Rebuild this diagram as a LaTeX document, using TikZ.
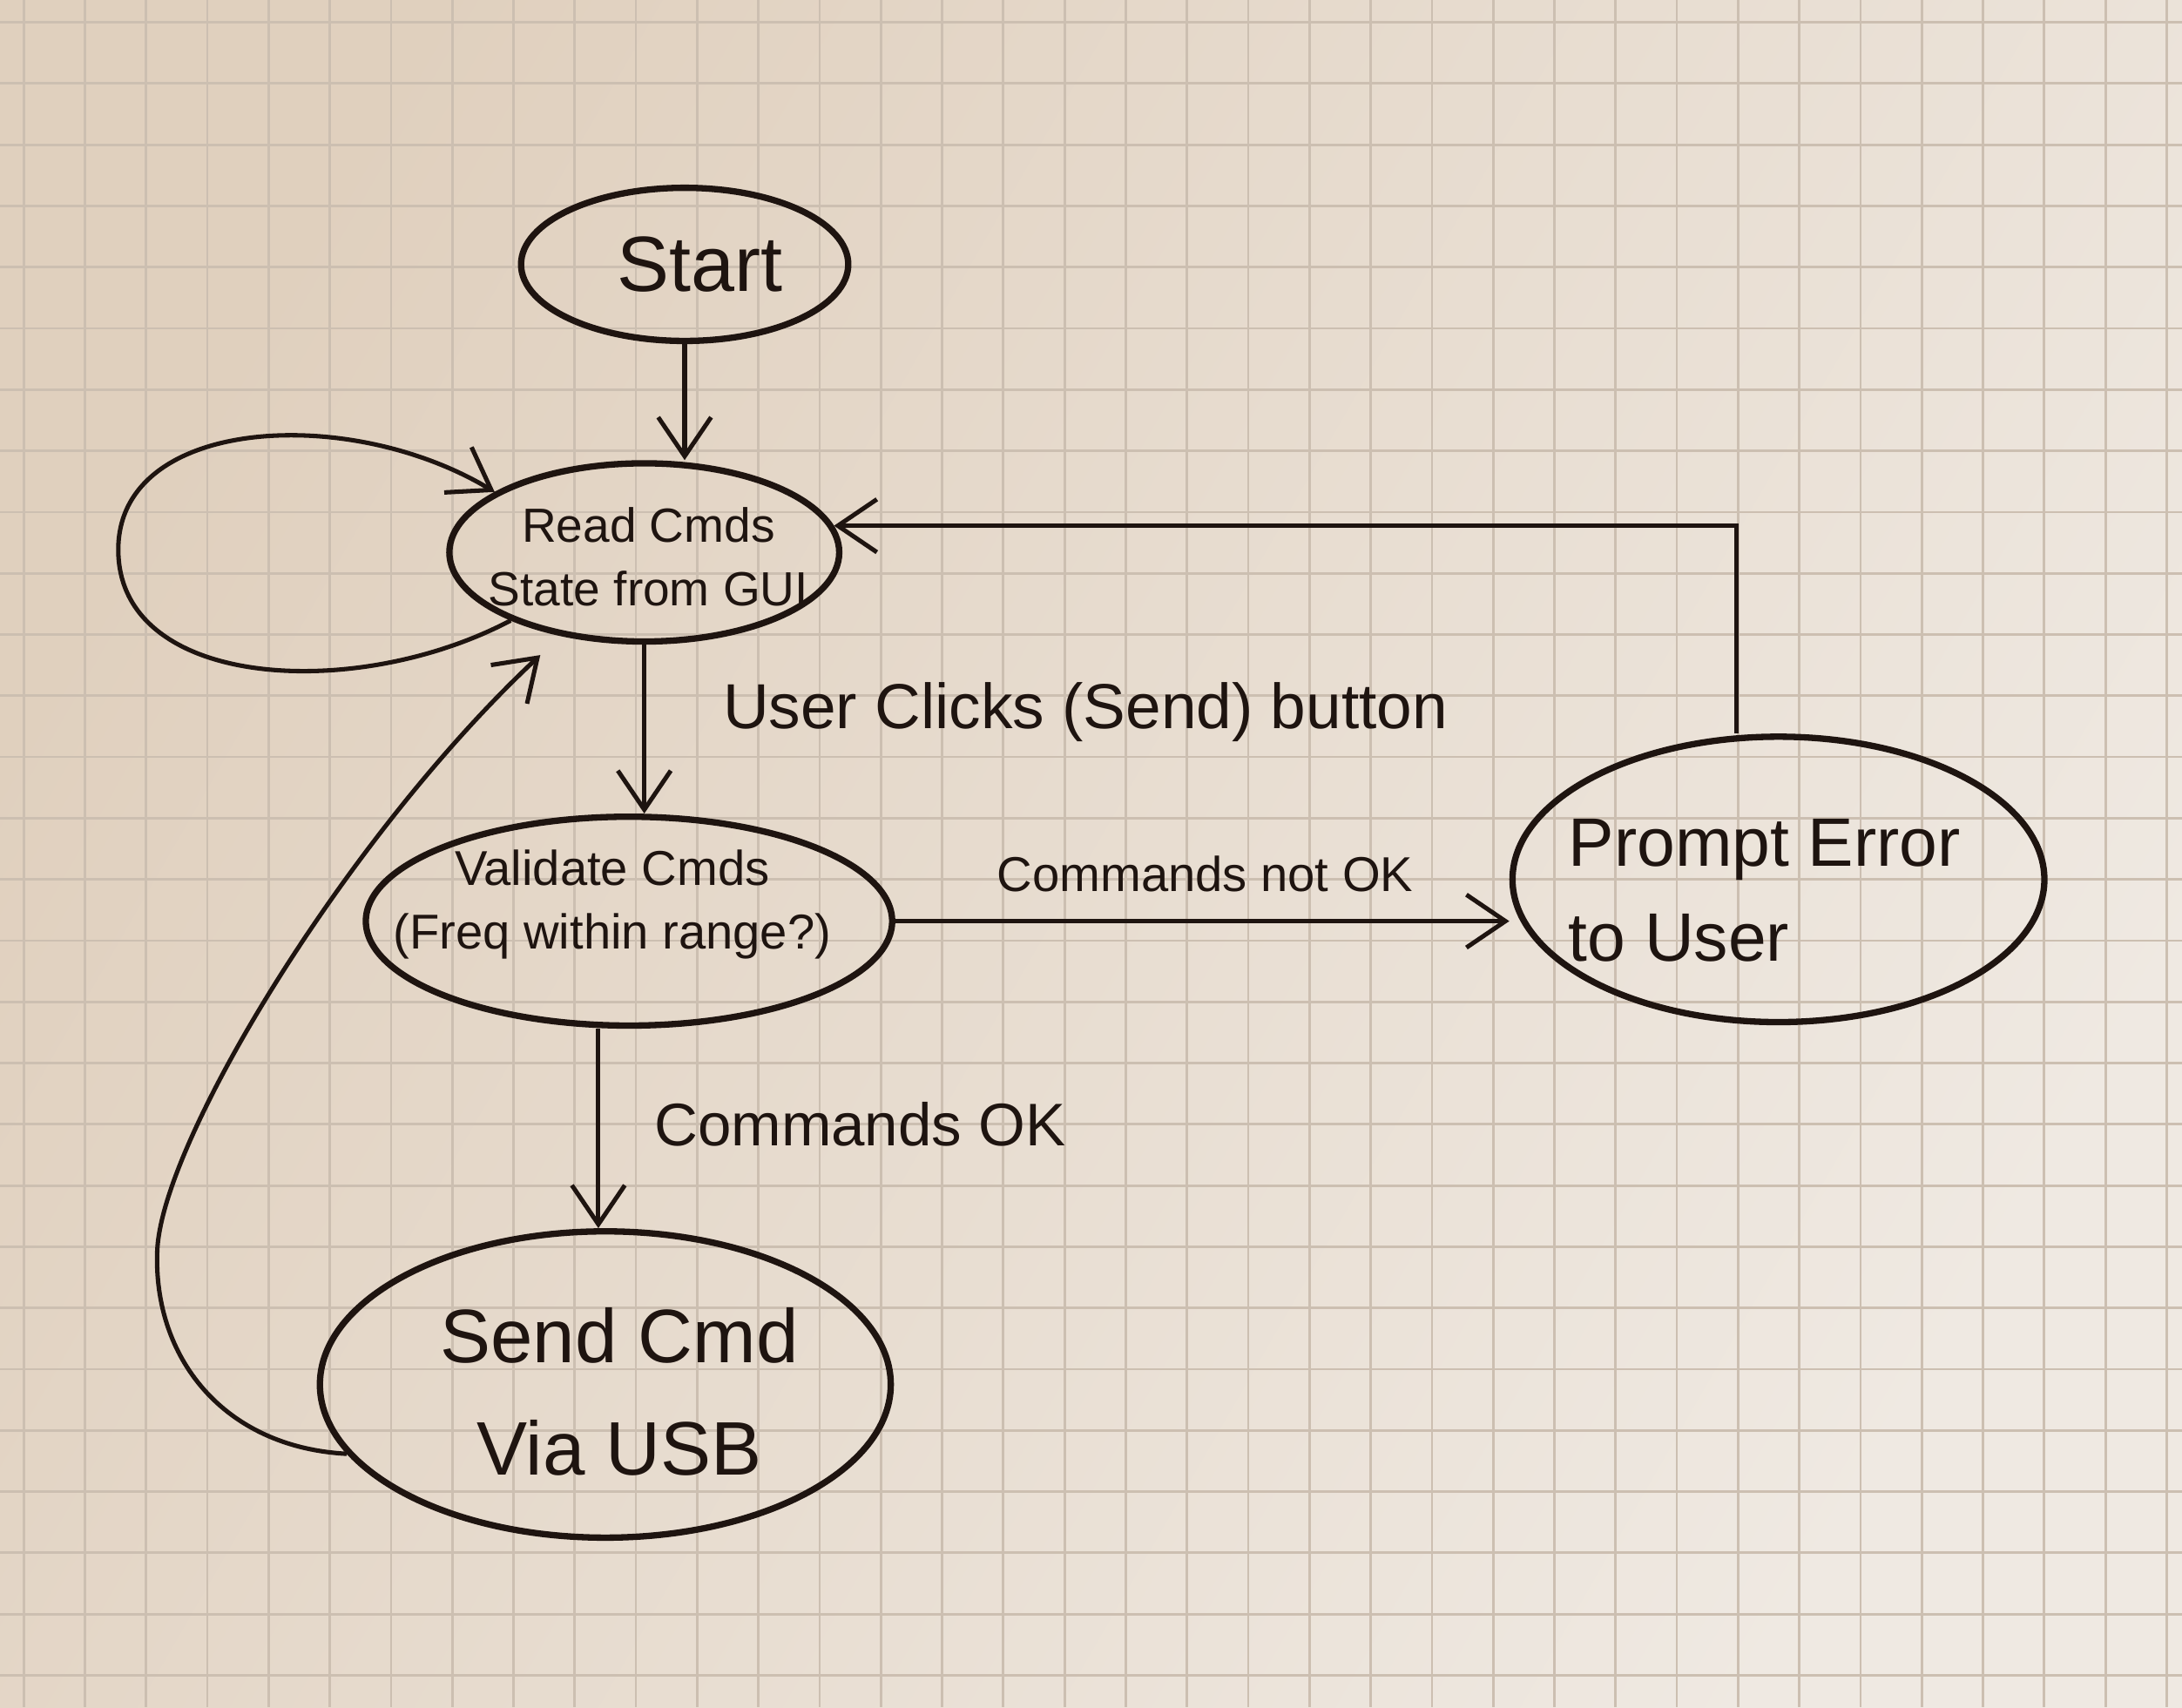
\documentclass[tikz,border=0pt]{standalone}
\usepackage{fontspec}
\setmainfont{Liberation Sans}
\usetikzlibrary{shapes.geometric,arrows.meta}
\definecolor{paperdark}{HTML}{E0D0BE}
\definecolor{paperlight}{HTML}{EFE9E2}
\definecolor{gridc}{HTML}{CCBFB1}
\definecolor{ink}{HTML}{1E1410}
\tikzset{
  state/.style={draw=ink, ellipse, line width=1.3pt, inner sep=0pt},
  stxt/.style={text=ink, inner sep=0pt, align=center},
  conn/.style={draw=ink, line width=0.9pt, -{Straight Barb[length=0.28cm,width=0.38cm,line width=0.9pt]}},
  lbl/.style={text=ink, inner sep=0pt}
}
\begin{document}
\begin{tikzpicture}[x=0.01cm,y=-0.01cm]
\useasboundingbox (0,0) rectangle (1568,1227);
\shade[left color=paperdark, right color=paperlight, shading angle=60] (0,0) rectangle (1568,1227);
\foreach \i in {0,...,35} \draw[gridc, line width=0.5pt] (17+\i*44,0) -- (17+\i*44,1227);
\foreach \j in {0,...,28} \draw[gridc, line width=0.5pt] (0,16+\j*44) -- (1568,16+\j*44);

% states
\node[state, minimum width=2.35cm, minimum height=1.10cm] (start) at (492,190) {};
\node[stxt, font=\fontsize{16}{18}\selectfont] (start-t) at (503,190) {Start};

\node[state, minimum width=2.80cm, minimum height=1.28cm] (read) at (463,397) {};
\node[stxt, font=\fontsize{9.8}{13}\selectfont] (read-t) at (466,400) {Read Cmds\\State from GUI};

\node[state, minimum width=3.78cm, minimum height=1.50cm] (valid) at (452,662) {};
\node[stxt, font=\fontsize{10}{13}\selectfont] (valid-t) at (440,650) {Validate Cmds\\(Freq within range?)};

\node[state, minimum width=4.10cm, minimum height=2.20cm] (send) at (435,995) {};
\node[stxt, font=\fontsize{15.5}{23}\selectfont] (send-t) at (445,1000) {Send Cmd\\Via USB};

\node[state, minimum width=3.82cm, minimum height=2.05cm] (prompt) at (1278,632) {};
\node[stxt, align=left, font=\fontsize{14}{19.5}\selectfont] (prompt-t) at (1268,640) {Prompt Error\\to User};

% connectors
\draw[conn] (start.south) -- (start.south |- read.north);
\draw[conn] (read.south) -- (read.south |- valid.north);
\draw[conn] ([xshift=-0.22cm]valid.south) -- ([xshift=-0.22cm]valid.south |- send.north);
\draw[conn] (valid.east) -- (valid.east -| prompt.west);
\draw[conn] ([xshift=-0.3cm]prompt.north) |- (read.8);
\draw[conn] (read.207) .. controls (255,505) and (85,495) .. (85,395)
                       .. controls (85,300) and (250,290) .. (read.158);
\draw[conn, shorten >=0.2cm] (send.195) .. controls (160,1040) and (110,975) .. (113,899)
                       .. controls (116,820) and (250,600) .. (read.225);

% labels
\node[lbl, font=\fontsize{13}{15}\selectfont] (l1) at (780,512) {User Clicks (Send) button};
\node[lbl, font=\fontsize{10}{12}\selectfont] (l2) at (866,628) {Commands not OK};
\node[lbl, font=\fontsize{12.3}{14}\selectfont] (l3) at (618,808) {Commands OK};
\end{tikzpicture}
\end{document}
